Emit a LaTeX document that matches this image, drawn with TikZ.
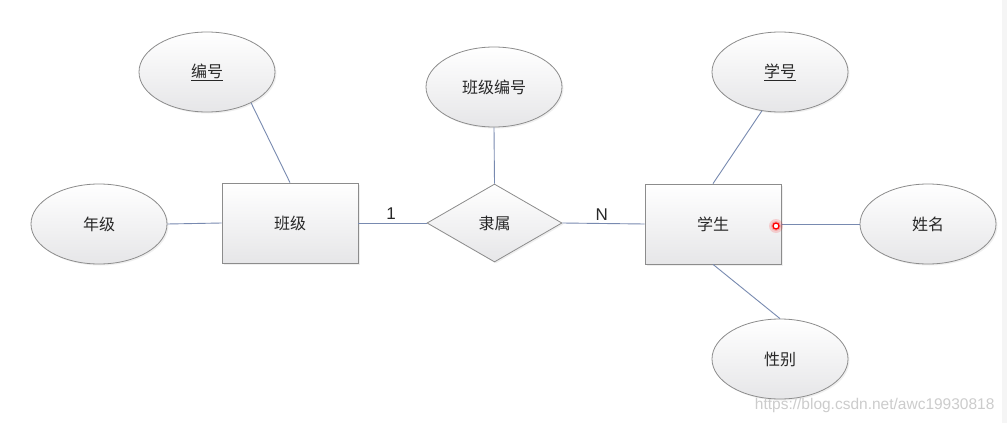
\documentclass[tikz,border=0pt]{standalone}
\usepackage{fontspec}
\newfontfamily\cjk{Noto Sans CJK SC}
\newfontfamily\lat{Liberation Sans}
\usetikzlibrary{shapes.geometric,shadows}
\definecolor{edgeblue}{RGB}{120,138,176}
\definecolor{bordergray}{RGB}{140,140,140}
\definecolor{shadebot}{RGB}{230,230,232}
\definecolor{txt}{RGB}{40,40,40}
\tikzset{
  base/.style={draw=bordergray,line width=0.8pt,top color=white,bottom color=shadebot,
    drop shadow={opacity=0.12,shadow xshift=1.5pt,shadow yshift=-1.5pt},
    font=\cjk\fontsize{16}{19}\selectfont,text=txt,inner sep=0pt},
  attr/.style={base,ellipse,minimum width=136pt,minimum height=80pt},
  entity/.style={base,rectangle,minimum width=136pt,minimum height=80pt},
  rel/.style={base,diamond,minimum width=135pt,minimum height=78pt},
  conn/.style={draw=edgeblue,line width=0.9pt},
  card/.style={font=\lat\fontsize{17}{19}\selectfont,text=txt,above=2pt,inner sep=1pt}
}
\begin{document}
\begin{tikzpicture}[x=1pt,y=-1pt]
\useasboundingbox (0,0) rectangle (1007,423);
\fill[white] (0,0) rectangle (1007,423);
\fill[black!4] (1002,0) rectangle (1007,423);
% nodes
\node[attr] (bh) at (207,72) {\underline{编号}};
\node[attr] (nj) at (99,224) {年级};
\node[entity] (bj) at (290,223) {班级};
\node[attr] (bjbh) at (494,87) {班级编号};
\node[rel] (ls) at (494.5,223) {隶属};
\node[entity] (xs) at (713,224) {学生};
\node[attr] (xh) at (780,72) {\underline{学号}};
\node[attr] (xm) at (928,224) {姓名};
\node[attr] (xb) at (780,359) {性别};
% connectors
\draw[conn] (bh.325) -- (bj.north);
\draw[conn] (nj.east) -- (bj.west);
\draw[conn] (bj.east) -- node[card,pos=0.48] (c1) {1} (ls.west);
\draw[conn] (bjbh.south) -- (ls.north);
\draw[conn] (ls.east) -- node[card,pos=0.48] (cn) {N} (xs.west);
\draw[conn] (xh.245) -- (xs.north);
\draw[conn] (xs.east) -- (xm.west);
\draw[conn] (xs.south) -- (xb.north);
% marker
\fill[red,opacity=0.15] (776,226) circle (7pt);
\fill[red,opacity=0.2] (776,226) circle (5pt);
\node[circle,draw=red,line width=1.3pt,fill=white,inner sep=0pt,minimum size=6pt] (mk) at (776,226) {};
% watermark
\node[font=\lat\fontsize{15.5}{17}\selectfont,text=black!20,anchor=east] (wm) at (998,405) {https://blog.csdn.net/awc19930818};
\end{tikzpicture}
\end{document}
